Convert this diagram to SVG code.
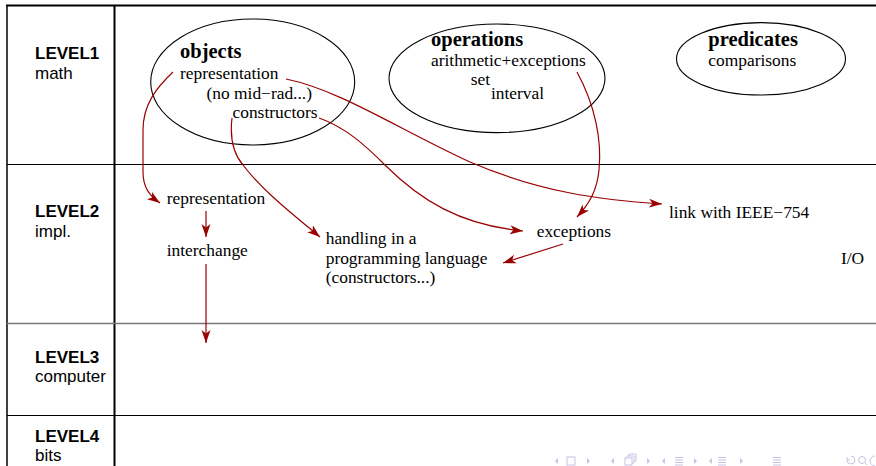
<svg xmlns="http://www.w3.org/2000/svg" width="876" height="466" viewBox="0 0 876 466">
  <style>
    .frame { stroke: #000; fill: none; }
    .lvl { font-family: "Liberation Sans", Arial, sans-serif; font-size: 17px; fill: #000; }
    .lvl .b { font-weight: bold; }
    .t { font-family: "Liberation Serif", "Times New Roman", serif; font-size: 17.4px; fill: #000; }
    .h { font-family: "Liberation Serif", "Times New Roman", serif; font-size: 20.5px; font-weight: bold; fill: #000; }
    .oval { fill: none; stroke: #000; stroke-width: 1.1; }
    .arr { fill: none; stroke: #990000; stroke-width: 1.2; marker-end: url(#tip); }
    .nav { fill: none; stroke: #c4c4e6; stroke-width: 1; }
    .navf { fill: #c4c4e6; }
  </style>
  <defs>
    <marker id="tip" viewBox="-13 -5 14 10" refX="0" refY="0" markerWidth="14" markerHeight="10" markerUnits="userSpaceOnUse" orient="auto">
      <path d="M0,0 L-13,-4.5 L-9.5,0 L-13,4.5 Z" fill="#990000"/>
    </marker>
  </defs>
  <rect width="876" height="466" fill="#fff"/>

  <!-- table frame -->
  <g id="grid">
    <line class="frame" x1="6" y1="5.5" x2="876" y2="5.5" stroke-width="2"/>
    <line class="frame" x1="7" y1="5" x2="7" y2="466" stroke-width="1.5"/>
    <line class="frame" x1="114.5" y1="5" x2="114.5" y2="466" stroke-width="2"/>
    <line class="frame" x1="7" y1="164.5" x2="876" y2="164.5" stroke-width="1.2"/>
    <line x1="7" y1="323.5" x2="876" y2="323.5" stroke="#777" stroke-width="1.6"/>
    <line class="frame" x1="7" y1="415.5" x2="876" y2="415.5" stroke-width="1.2"/>
  </g>

  <!-- row headers -->
  <g id="level1" class="lvl"><text x="35" y="59" class="b">LEVEL1</text><text x="35" y="79">math</text></g>
  <g id="level2" class="lvl"><text x="35" y="217" class="b">LEVEL2</text><text x="35" y="237">impl.</text></g>
  <g id="level3" class="lvl"><text x="35" y="363" class="b">LEVEL3</text><text x="35" y="382">computer</text></g>
  <g id="level4" class="lvl"><text x="35" y="442" class="b">LEVEL4</text><text x="35" y="461">bits</text></g>

  <!-- level 1 nodes -->
  <g id="objects">
    <ellipse class="oval" cx="252.7" cy="82" rx="102" ry="63"/>
    <text class="h" x="180" y="58">objects</text>
    <text class="t" x="180" y="79">representation</text>
    <text class="t" x="206.5" y="98.5">(no mid−rad...)</text>
    <text class="t" x="232.5" y="118">constructors</text>
  </g>
  <g id="operations">
    <ellipse class="oval" cx="497" cy="78.3" rx="108" ry="54.3"/>
    <text class="h" x="431" y="46">operations</text>
    <text class="t" x="431" y="66">arithmetic+exceptions</text>
    <text class="t" x="470.7" y="85">set</text>
    <text class="t" x="491" y="99">interval</text>
  </g>
  <g id="predicates">
    <ellipse class="oval" cx="761" cy="58.8" rx="84.5" ry="36.2"/>
    <text class="h" x="708.3" y="46">predicates</text>
    <text class="t" x="708.3" y="66">comparisons</text>
  </g>

  <!-- level 2 nodes -->
  <g id="representation2"><text class="t" x="166.7" y="204">representation</text></g>
  <g id="interchange"><text class="t" x="166.7" y="256">interchange</text></g>
  <g id="handling">
    <text class="t" x="325.7" y="243.5">handling in a</text>
    <text class="t" x="325.7" y="264">programming language</text>
    <text class="t" x="325.7" y="283">(constructors...)</text>
  </g>
  <g id="exceptions"><text class="t" x="536.7" y="237">exceptions</text></g>
  <g id="ieee"><text class="t" x="669" y="217.5">link with IEEE−754</text></g>
  <g id="io"><text class="t" x="841" y="264">I/O</text></g>

  <!-- connectors -->
  <g id="connectors">
    <path class="arr" d="M173,72 C156,88 143,105 143,130 L143,172 C143,188 150,196 160,203"/>
    <path class="arr" d="M206,211 L206,237"/>
    <path class="arr" d="M206,264 L206,343"/>
    <path class="arr" d="M232,118 C230,135 232,152 243,165 C262,190 290,212 320,237"/>
    <path class="arr" d="M319,118 C345,127 365,145 385,165 C420,200 460,225 523,231"/>
    <path class="arr" d="M286,79 C340,90 400,130 470,162 C540,192 600,200 662,204"/>
    <path class="arr" d="M577,72 C595,105 602,140 599,170 C597,190 590,203 577,217"/>
    <path class="arr" d="M563,244 L503,263"/>
  </g>

  <!-- navigation symbols -->
  <g id="navigation">
    <path class="navf" d="M555,461 L558,458 L558,464 Z"/>
    <rect class="nav" x="567" y="457" width="8" height="8"/>
    <path class="navf" d="M590,461 L587,458 L587,464 Z"/>
    <path class="navf" d="M611,461 L614,458 L614,464 Z"/>
    <rect class="nav" x="625" y="458" width="7" height="7"/>
    <path class="nav" d="M627,458 V456 H634 V463 H632 M629,456 V454 H636 V461 H634"/>
    <path class="navf" d="M650,461 L647,458 L647,464 Z"/>
    <path class="navf" d="M662,461 L665,458 L665,464 Z"/>
    <path class="nav" d="M675,457.5 H683 M675,460 H683 M675,462.5 H683 M675,465 H683"/>
    <path class="navf" d="M697,461 L694,458 L694,464 Z"/>
    <path class="navf" d="M709,461 L712,458 L712,464 Z"/>
    <path class="nav" d="M718,457.5 H726 M718,460 H726 M718,462.5 H726 M718,465 H726"/>
    <path class="navf" d="M743,461 L740,458 L740,464 Z"/>
    <path class="nav" d="M773,457.5 H781 M773,460 H781 M773,462.5 H781 M773,465 H781"/>
    <path class="nav" d="M847,460 A4,4 0 1 0 851,456 M847,457 L847,460 L850,460"/>
    <circle class="nav" cx="862" cy="460" r="3.5"/>
    <path class="nav" d="M864.5,462.5 L867,465"/>
    <path class="nav" d="M875,456 A5,5 0 0 0 875,466"/>
  </g>
</svg>
